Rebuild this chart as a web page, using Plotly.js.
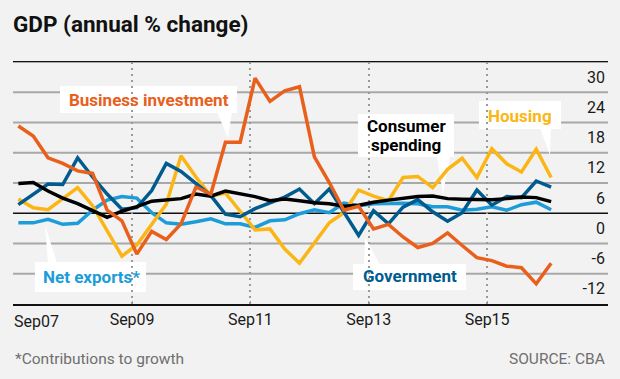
<!DOCTYPE html>
<html>
<head>
<meta charset="utf-8">
<script src="https://cdn.plot.ly/plotly-3.0.1.min.js"></script>
<style>
html,body{margin:0;padding:0;background:#f2f2f2;}
#chart{width:620px;height:379px;}
</style>
</head>
<body>
<div id="chart"></div>
<script>
// Quarterly observations, Sep 2007 - Sep 2016
const quarters = [
  '2007-09-30','2007-12-31',
  '2008-03-31','2008-06-30','2008-09-30','2008-12-31',
  '2009-03-31','2009-06-30','2009-09-30','2009-12-31',
  '2010-03-31','2010-06-30','2010-09-30','2010-12-31',
  '2011-03-31','2011-06-30','2011-09-30','2011-12-31',
  '2012-03-31','2012-06-30','2012-09-30','2012-12-31',
  '2013-03-31','2013-06-30','2013-09-30','2013-12-31',
  '2014-03-31','2014-06-30','2014-09-30','2014-12-31',
  '2015-03-31','2015-06-30','2015-09-30','2015-12-31',
  '2016-03-31','2016-06-30','2016-09-30'
];
const businessInvestment = [17.3, 15.3, 11.0, 9.9, 8.4, 7.9, 0.6, -1.5, -8.1, -3.6, -5.2, -2.1, 5.2, 3.8, 14.1, 14.1, 26.8, 22.2, 24.3, 25.1, 11.2, 6.1, 0.6, 1.4, -3.1, -2.2, -4.7, -6.8, -6.0, -3.9, -6.4, -8.8, -9.4, -10.5, -10.8, -14.0, -9.9];
const housing = [2.8, 1.1, 0.7, 2.9, 5.1, 1.5, -3.4, -8.5, -6.3, -2.2, 1.8, 11.4, 7.2, 3.4, 4.0, 0.4, -3.3, -3.1, -7.1, -9.9, -5.8, -1.9, 0.1, 4.6, 3.4, 2.5, 7.1, 7.3, 5.1, 8.7, 10.9, 7.1, 12.8, 9.8, 8.2, 12.7, 7.1];
const consumerSpending = [5.9, 6.1, 4.4, 3.0, 1.9, 0.5, -0.8, 0.4, 1.3, 2.4, 2.6, 2.9, 3.8, 3.4, 4.4, 3.8, 3.3, 2.5, 2.8, 2.5, 2.1, 1.9, 1.4, 1.6, 2.2, 2.6, 2.9, 3.3, 3.4, 2.9, 2.8, 2.8, 2.7, 2.9, 3.2, 3.1, 2.3];
const government = [1.7, 3.8, 5.8, 5.7, 11.0, 7.2, 3.8, 0.8, 1.1, 4.5, 9.9, 8.3, 5.8, 3.5, -0.2, -0.7, 0.9, 2.1, 3.2, 4.8, 1.9, 4.8, 0.3, -4.4, 0.5, -2.1, 1.2, 2.7, 0.3, -1.6, 0.1, 4.6, 1.6, 3.3, 3.1, 6.4, 5.2];
const netExports = [-1.9, -1.9, -1.2, -2.2, -2.0, 0.6, 2.6, 3.3, 3.0, 0.1, -1.9, -2.2, -1.7, -1.1, -2.1, -2.1, -2.8, -1.5, -1.3, -0.1, 0.7, 0.1, 2.0, 1.5, 1.9, 2.0, 2.0, 1.9, 1.3, 1.3, 0.6, 0.8, 1.3, 0.6, 1.7, 2.2, 0.7];

const seriesNames = ['Business investment', 'Housing', 'Consumer spending', 'Government', 'Net exports*'];
const yTickVals = [30, 24, 18, 12, 6, 0, -6, -12];
const yTickLabels = ['30', '24', '18', '12', '6', '0', '-6', '-12'];
const xTickVals = ['2007-09-01', '2009-09-01', '2011-09-01', '2013-09-01', '2015-09-01'];
const xTickLabels = ['Sep07', 'Sep09', 'Sep11', 'Sep13', 'Sep15'];
const titleText = 'GDP (annual % change)';
const noteText = '*Contributions to growth';
const sourceText = 'SOURCE: CBA';

// styling
const C = {bi:'#e8601c', ho:'#fbb616', cs:'#000000', go:'#005b8f', nx:'#1c9cd8'};
const W = 620, H = 379, ML = 13, MR = 12, MT = 62, MB = 75;
const PW = W - ML - MR, PH = H - MT - MB;
const px = x => (x - ML) / PW;
const py = y => (H - MB - y) / PH;
const FONT = 'Roboto, "Liberation Sans", Arial, sans-serif';

function line(y, color, name) {
  return {x: quarters, y: y, type: 'scatter', mode: 'lines', name: name,
          line: {color: color, width: 3.5, shape: 'linear'}, hoverinfo: 'skip'};
}
const data = [
  line(netExports, C.nx, seriesNames[4]),
  line(housing, C.ho, seriesNames[1]),
  line(government, C.go, seriesNames[3]),
  line(consumerSpending, C.cs, seriesNames[2]),
  line(businessInvestment, C.bi, seriesNames[0])
];

const shapes = [];
const annotations = [];

// horizontal rules at the y ticks (zero in black)
yTickVals.forEach(v => {
  shapes.push({type:'line', xref:'paper', yref:'y', x0:0, x1:1, y0:v, y1:v, layer:'below',
               line:{color: v === 0 ? '#111111' : '#a8a8a8', width: v === 0 ? 1.5 : 2}});
});

// callout boxes (pixel geometry) and wedges
const boxes = [
  {x0:60, x1:237, y0:86, y1:113, wedge:[[217,112],[232,112],[228,138]], color:C.bi, lines:[seriesNames[0]], cx:148.5, cy:[100]},
  {x0:479, x1:561, y0:101, y1:129, wedge:[[540,128],[551,128],[550,155]], color:C.ho, lines:[seriesNames[1]], cx:520, cy:[115.5]},
  {x0:358, x1:454, y0:114, y1:157, wedge:[[437,156],[450,156],[443,194]], color:C.cs, lines:seriesNames[2].split(' '), cx:406, cy:[126.5, 144.5]},
  {x0:353, x1:466, y0:264, y1:290, wedge:[[364,265],[380,265],[365,237]], color:C.go, lines:[seriesNames[3]], cx:410, cy:[276]},
  {x0:35, x1:146, y0:262, y1:292, wedge:[[48,263],[57,263],[45,225]], color:C.nx, lines:[seriesNames[4]], cx:91, cy:[276.5]}
];

boxes.forEach(b => {
  shapes.push({type:'rect', xref:'paper', yref:'paper', x0:px(b.x0), x1:px(b.x1), y0:py(b.y1), y1:py(b.y0),
               fillcolor:'#ffffff', line:{width:0}, layer:'between'});
  const w = b.wedge;
  shapes.push({type:'path', xref:'paper', yref:'paper', layer:'between',
               path:'M' + px(w[0][0]) + ',' + py(w[0][1]) + ' L' + px(w[1][0]) + ',' + py(w[1][1]) + ' L' + px(w[2][0]) + ',' + py(w[2][1]) + ' Z',
               fillcolor:'#ffffff', line:{width:0}});
  b.lines.forEach((t, i) => {
    annotations.push({xref:'paper', yref:'paper', x:px(b.cx), y:py(b.cy[i]), xanchor:'center', yanchor:'middle',
                      text:t, showarrow:false, font:{family:FONT, size:17, weight:700, color:b.color}});
  });
});

// first x label is shifted right so it is not clipped
annotations.push({xref:'paper', yref:'paper', x:px(12), y:py(321), xanchor:'left', yanchor:'middle',
                  text:xTickLabels[0], showarrow:false, font:{family:FONT, size:16, color:'#1a1a1a'}});
annotations.push({xref:'paper', yref:'paper', x:px(13), y:py(359), xanchor:'left', yanchor:'middle',
                  text:noteText, showarrow:false, font:{family:FONT, size:15.5, color:'#6f6f6f'}});
annotations.push({xref:'paper', yref:'paper', x:px(607), y:py(359), xanchor:'right', yanchor:'middle',
                  text:sourceText, showarrow:false, font:{family:FONT, size:15.5, color:'#6f6f6f'}});

const layout = {
  width: W, height: H,
  margin: {l: ML, r: MR, t: MT, b: MB, pad: 0},
  paper_bgcolor: '#f2f2f2', plot_bgcolor: '#f2f2f2',
  showlegend: false,
  title: {text: titleText, x: 13 / W, xanchor: 'left', xref: 'container', y: 1 - 24 / H, yanchor: 'middle', yref: 'container',
          font: {family: FONT, size: 22.5, weight: 700, color: '#111111'}},
  xaxis: {type: 'date', range: ['2007-08-28', '2017-09-16'], tickvals: xTickVals,
          ticktext: xTickLabels.map((t, i) => i === 0 ? '' : t),
          showgrid: true, griddash: '2px,4px', gridcolor: '#9a9a9a', gridwidth: 2,
          showline: true, mirror: true, linecolor: '#111111', linewidth: 1.5,
          ticks: 'inside', ticklen: 3, tickcolor: '#9a9a9a', tickwidth: 1,
          zeroline: false, tickfont: {family: FONT, size: 16, color: '#1a1a1a'}, fixedrange: true},
  yaxis: {range: [-18, 30], side: 'right', tickvals: yTickVals, ticktext: yTickLabels,
          ticklabelposition: 'inside', ticklabelshift: 15, ticks: '',
          showgrid: false, zeroline: false, showline: false,
          tickfont: {family: FONT, size: 16, color: '#1a1a1a'}, fixedrange: true},
  shapes: shapes,
  annotations: annotations
};

Plotly.newPlot('chart', data, layout, {staticPlot: true, displayModeBar: false});
</script>
</body>
</html>
